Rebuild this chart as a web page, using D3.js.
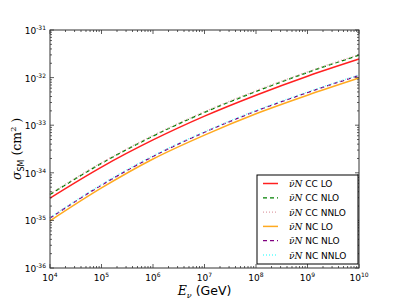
<!DOCTYPE html>
<html><head><meta charset="utf-8">
<script src="https://cdn.jsdelivr.net/npm/d3@7"></script>
<style>body{margin:0;background:#fff}svg{display:block}</style>
</head><body>
<script>
const energies = [1e4, 1e5, 1e6, 1e7, 1e8, 1e9, 1e10];
const ccLO   = [2.95e-35, 1.32e-34, 4.9e-34, 1.55e-33, 4.27e-33, 1.07e-32, 2.45e-32];
const ccNLO  = [3.5e-35, 1.58e-34, 5.9e-34, 1.86e-33, 5.1e-33, 1.28e-32, 2.95e-32];
const ccNNLO = [3.6e-35, 1.63e-34, 6.1e-34, 1.92e-33, 5.3e-33, 1.32e-32, 3.05e-32];
const ncLO   = [9.8e-36, 4.8e-35, 1.95e-34, 6.2e-34, 1.74e-33, 4.27e-33, 9.8e-33];
const ncNLO  = [1.12e-35, 5.5e-35, 2.2e-34, 7.1e-34, 1.98e-33, 4.85e-33, 1.11e-32];
const ncNNLO = [1.15e-35, 5.7e-35, 2.28e-34, 7.3e-34, 2.04e-33, 5.0e-33, 1.14e-32];
const seriesLabels = ["CC LO", "CC NLO", "CC NNLO", "NC LO", "NC NLO", "NC NNLO"];
const xTickExp = [4, 5, 6, 7, 8, 9, 10];
const yTickExp = [-36, -35, -34, -33, -32, -31];

const W = 399, H = 299;
const m = {l: 50, r: 40, t: 30, b: 31};
const svg = d3.select("body").append("svg").attr("width", W).attr("height", H);
const x = d3.scaleLog().domain([1e4, 1e10]).range([m.l, W - m.r]);
const y = d3.scaleLog().domain([1e-36, 1e-31]).range([H - m.b, m.t]);

const styles = [
  {c: "#ff2020", d: null, w: 1.5},
  {c: "#008000", d: "4,3", w: 1.3},
  {c: "#e0a0a8", d: "1,2", w: 1.3},
  {c: "#ffaa20", d: null, w: 1.5},
  {c: "#800080", d: "4,3", w: 1.3},
  {c: "#60ffff", d: "1,2", w: 1.3}
];
const allSeries = [ccLO, ccNLO, ccNNLO, ncLO, ncNLO, ncNNLO];

const g = svg.append("g");
const line = d3.line().x((d, i) => x(energies[i])).y(d => y(d)).curve(d3.curveMonotoneX);
allSeries.forEach((s, k) => {
  g.append("path").datum(s).attr("d", line).attr("fill", "none")
    .attr("stroke", styles[k].c).attr("stroke-width", styles[k].w)
    .attr("stroke-dasharray", styles[k].d);
});

// frame
const x0 = m.l, x1 = W - m.r, y0 = m.t, y1 = H - m.b;
svg.append("rect").attr("x", x0).attr("y", y0).attr("width", x1 - x0).attr("height", y1 - y0)
  .attr("fill", "none").attr("stroke", "#333").attr("stroke-width", 1);

// ticks
const tg = svg.append("g").attr("stroke", "#333").attr("stroke-width", 0.8);
function minors(lo, hi) {
  const out = [];
  for (let e = lo; e < hi; e++) for (let k = 2; k <= 9; k++) out.push(k * Math.pow(10, e));
  return out;
}
xTickExp.forEach(e => {
  const px = x(Math.pow(10, e));
  tg.append("line").attr("x1", px).attr("x2", px).attr("y1", y1).attr("y2", y1 - 4);
  tg.append("line").attr("x1", px).attr("x2", px).attr("y1", y0).attr("y2", y0 + 4);
});
minors(4, 10).forEach(v => {
  const px = x(v);
  tg.append("line").attr("x1", px).attr("x2", px).attr("y1", y1).attr("y2", y1 - 2);
  tg.append("line").attr("x1", px).attr("x2", px).attr("y1", y0).attr("y2", y0 + 2);
});
yTickExp.forEach(e => {
  const py = y(Math.pow(10, e));
  tg.append("line").attr("y1", py).attr("y2", py).attr("x1", x0).attr("x2", x0 + 4);
  tg.append("line").attr("y1", py).attr("y2", py).attr("x1", x1).attr("x2", x1 - 4);
});
minors(-36, -31).forEach(v => {
  const py = y(v);
  tg.append("line").attr("y1", py).attr("y2", py).attr("x1", x0).attr("x2", x0 + 2);
  tg.append("line").attr("y1", py).attr("y2", py).attr("x1", x1).attr("x2", x1 - 2);
});

// tick labels
const font = "DejaVu Sans, sans-serif";
xTickExp.forEach(e => {
  const t = svg.append("text").attr("x", x(Math.pow(10, e))).attr("y", y1 + 13)
    .attr("text-anchor", "middle").attr("font-family", font).attr("font-size", 9).attr("fill", "#000");
  t.append("tspan").text("10");
  t.append("tspan").attr("dy", -4).attr("font-size", 6).text(String(e));
});
yTickExp.forEach(e => {
  const t = svg.append("text").attr("x", x0 - 4).attr("y", y(Math.pow(10, e)) + 4)
    .attr("text-anchor", "end").attr("font-family", font).attr("font-size", 9).attr("fill", "#000");
  t.append("tspan").text("10");
  t.append("tspan").attr("dy", -4).attr("font-size", 6).text(String(e));
});

// axis labels
const serif = "DejaVu Serif, serif";
const xl = svg.append("text").attr("x", (x0 + x1) / 2).attr("y", 295).attr("text-anchor", "middle")
  .attr("font-size", 12.5).attr("fill", "#000");
xl.append("tspan").attr("font-family", serif).attr("font-style", "italic").text("E");
xl.append("tspan").attr("font-family", serif).attr("font-style", "italic").attr("font-size", 8).attr("dy", 2.5).text("ν");
xl.append("tspan").attr("font-family", font).attr("dy", -2.5).text(" (GeV)");

const yl = svg.append("text").attr("transform", `translate(21,${(y0 + y1) / 2}) rotate(-90)`)
  .attr("text-anchor", "middle").attr("font-size", 12.5).attr("fill", "#000");
yl.append("tspan").attr("font-family", serif).attr("font-style", "italic").text("σ");
yl.append("tspan").attr("font-family", font).attr("font-size", 8).attr("dy", 2.5).text("SM");
yl.append("tspan").attr("font-family", serif).attr("dy", -2.5).text(" (cm");
yl.append("tspan").attr("font-family", serif).attr("font-size", 8).attr("dy", -5).text("2");
yl.append("tspan").attr("font-family", serif).attr("dy", 5).text(" )");

// legend
const lx = 257, ly = 175, lw = 101, lh = 89;
svg.append("rect").attr("x", lx).attr("y", ly).attr("width", lw).attr("height", lh)
  .attr("fill", "#fff").attr("stroke", "#000").attr("stroke-width", 1);
seriesLabels.forEach((lab, k) => {
  const ry = ly + 8.5 + k * 14.3;
  svg.append("line").attr("x1", lx + 6).attr("x2", lx + 21).attr("y1", ry).attr("y2", ry)
    .attr("stroke", styles[k].c).attr("stroke-width", styles[k].w).attr("stroke-dasharray", styles[k].d);
  const t = svg.append("text").attr("x", lx + 32).attr("y", ry + 3.5).attr("font-size", 9).attr("fill", "#000");
  t.append("tspan").attr("font-family", serif).attr("font-style", "italic").text("ν̄N");
  t.append("tspan").attr("font-family", font).text(" " + lab);
});
</script>
</body></html>
